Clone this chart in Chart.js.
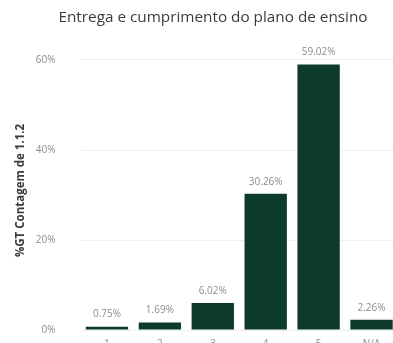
<!DOCTYPE html>
<html lang="pt">
<head>
<meta charset="utf-8">
<title>Entrega e cumprimento do plano de ensino</title>
<script src="https://cdn.jsdelivr.net/npm/chart.js@4/dist/chart.umd.min.js"></script>
<style>
  html, body { margin: 0; padding: 0; background: #fff; overflow: hidden; }
  #wrap { position: relative; width: 398px; height: 350px; }
  #chart { position: absolute; left: 0; top: 0; }
  #title {
    position: absolute; left: 13px; width: 400px; top: 6px;
    text-align: center; font: 15.3px "Open Sans", sans-serif; color: #3c3c3c;
  }
</style>
</head>
<body>
<div id="wrap">
  <canvas id="chart" width="398" height="350"></canvas>
  <div id="title">Entrega e cumprimento do plano de ensino</div>
</div>
<script>
'use strict';

// ── Data ──────────────────────────────────────────────────────
const categories = ['1', '2', '3', '4', '5', 'N/A'];
const shares     = [0.75, 1.69, 6.02, 30.26, 59.02, 2.26];
const yTicks     = [0, 20, 40, 60];

const BAR_COLOR  = '#0c3a2b';
const TEXT_GREY  = '#8c8c8c';

// ── Value labels above each bar ───────────────────────────────
const valueLabels = {
  id: 'valueLabels',
  afterDatasetsDraw(chart) {
    const ctx = chart.ctx;
    const meta = chart.getDatasetMeta(0);
    ctx.save();
    ctx.font = '10px "Open Sans", sans-serif';
    ctx.fillStyle = TEXT_GREY;
    ctx.textAlign = 'center';
    ctx.textBaseline = 'bottom';
    meta.data.forEach((bar, i) => {
      ctx.fillText(shares[i].toFixed(2) + '%', bar.x, bar.y - 7);
    });
    ctx.restore();
  },
};

new Chart(document.getElementById('chart'), {
  type: 'bar',
  data: {
    labels: categories,
    datasets: [{
      data: shares,
      backgroundColor: BAR_COLOR,
      barPercentage: 0.8,
      categoryPercentage: 1,
    }],
  },
  options: {
    responsive: false,
    animation: false,
    layout: { padding: { top: 51, left: 12, right: 0, bottom: 0 } },
    plugins: {
      legend: { display: false },
      tooltip: { enabled: false },
    },
    scales: {
      x: {
        grid: { display: false },
        border: { display: false },
        ticks: { color: TEXT_GREY, font: { family: 'Open Sans', size: 10 }, padding: 0 },
        afterFit(scale) { scale.height = 20; },
      },
      y: {
        min: 0,
        max: 62,
        afterBuildTicks(scale) {
          scale.ticks = yTicks.map((v) => ({ value: v }));
        },
        grid: { color: '#efefef', drawTicks: false },
        border: { display: false },
        ticks: {
          color: TEXT_GREY,
          font: { family: 'Open Sans', size: 10 },
          padding: 25,
          callback: (v) => v + '%',
        },
        title: {
          display: true,
          text: '%GT Contagem de 1.1.2',
          color: '#3a3a3a',
          font: { family: 'Open Sans', size: 11.5, weight: 'bold' },
          padding: 2,
        },
        // the wide tick padding would otherwise push the plot area in vertically
        afterFit(scale) {
          scale.width = 68.5;
          scale.paddingTop = 0;
          scale.paddingBottom = 0;
        },
      },
    },
  },
  plugins: [valueLabels],
});
</script>
</body>
</html>
